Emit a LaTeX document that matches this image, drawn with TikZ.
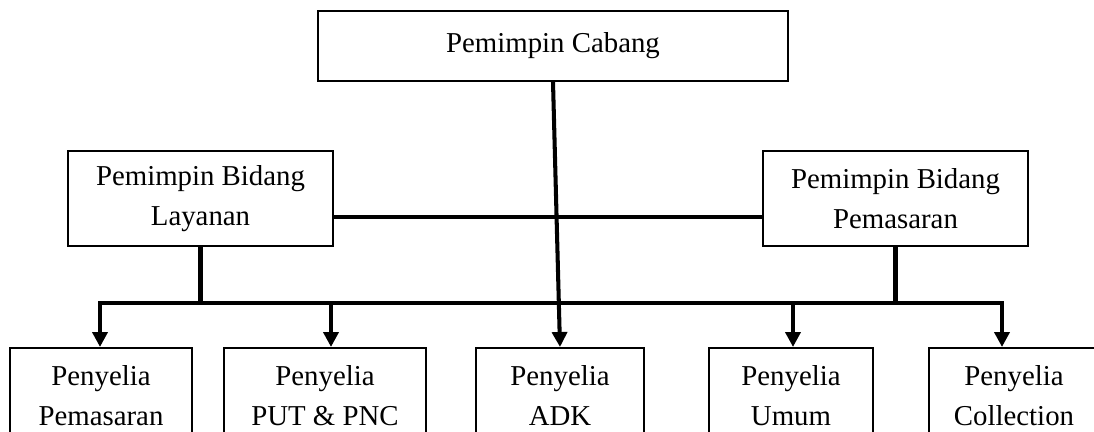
\documentclass[tikz,border=0pt]{standalone}
\usepackage{fontspec}
\setmainfont{Liberation Serif}
\usetikzlibrary{arrows.meta,calc}

\begin{document}
\begin{tikzpicture}[font=\fontsize{16.4}{22.7}\selectfont,
  box/.style={draw,line width=1.1pt,align=center,inner sep=0pt,minimum height=1.9cm},
  link/.style={line width=2.3pt,line cap=rect},
  down/.style={line width=2.3pt,-{Triangle[width=8.5pt,length=8.5pt]}}]
\useasboundingbox (0,0) rectangle (21.88,8.64);
\clip (0,0) rectangle (21.88,8.64);
% top and middle level
\node[box,minimum width=9.4cm,minimum height=1.4cm] (cabang) at (11.06,7.72) {Pemimpin Cabang};
\node[box,minimum width=5.3cm] (layanan) at (4.01,4.67) {Pemimpin Bidang\\Layanan};
\node[box,minimum width=5.3cm] (pemasaran) at (17.91,4.67) {Pemimpin Bidang\\Pemasaran};
% bottom level
\node[box,anchor=north,minimum width=3.64cm] (p1) at (2.02,1.70) {Penyelia\\Pemasaran};
\node[box,anchor=north,minimum width=4.04cm] (p2) at (6.50,1.70) {Penyelia\\PUT \& PNC};
\node[box,anchor=north,minimum width=3.36cm] (p3) at (11.20,1.70) {Penyelia\\ADK};
\node[box,anchor=north,minimum width=3.28cm] (p4) at (15.82,1.70) {Penyelia\\Umum};
\node[box,anchor=north,minimum width=3.4cm] (p5) at (20.28,1.70) {Penyelia\\Collection};
% bus
\coordinate (t1) at (2.00,2.58);
\coordinate (t2) at (6.62,2.58);
\coordinate (t4) at (15.86,2.58);
\coordinate (t5) at (20.04,2.58);
\draw[link] ($(layanan.east)+(0,-0.37)$) -- ($(pemasaran.west)+(0,-0.37)$);
\draw[link] (layanan.south) -- (layanan.south |- t1);
\draw[link] (pemasaran.south) -- (pemasaran.south |- t1);
\draw[link] (t1) -- (t5);
\draw[down] (cabang.south) -- (p3.north);
\foreach \t/\p in {t1/p1,t2/p2,t4/p4,t5/p5}
  \draw[down] (\t) -- (\t |- \p.north);
\end{tikzpicture}
\end{document}
